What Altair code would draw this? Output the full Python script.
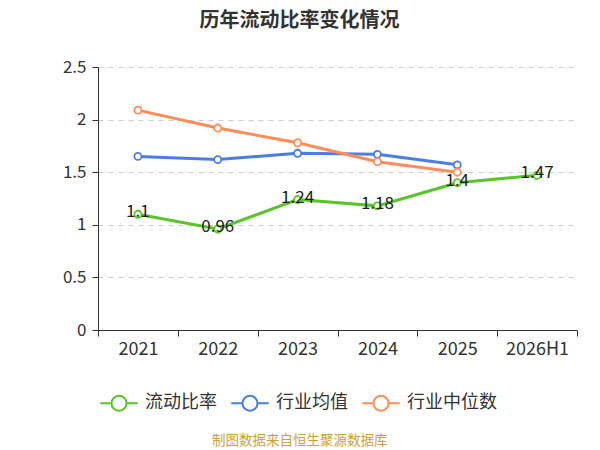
import altair as alt
import pandas as pd

years = ["2021", "2022", "2023", "2024", "2025", "2026H1"]
current_ratio = [1.1, 0.96, 1.24, 1.18, 1.4, 1.47]
industry_mean = [1.65, 1.62, 1.68, 1.67, 1.57, None]
industry_median = [2.09, 1.92, 1.78, 1.6, 1.5, None]
series_names = ["流动比率", "行业均值", "行业中位数"]
series_colors = ["#5ac42a", "#4a7ee0", "#ff8c5a"]
title_text = "历年流动比率变化情况"
footer_text = "制图数据来自恒生聚源数据库"

rows = []
for name, vals in zip(series_names, [current_ratio, industry_mean, industry_median]):
    for i, (y, v) in enumerate(zip(years, vals)):
        if v is not None:
            rows.append({"year": y, "value": v, "series": name, "order": i})
df = pd.DataFrame(rows)
df_cur = df[df["series"] == series_names[0]]

font = "Noto Sans CJK SC"
color_scale = alt.Scale(domain=series_names, range=series_colors)
x_enc = alt.X("year:N", sort=years,
              scale=alt.Scale(type="band", paddingInner=0, paddingOuter=0),
              axis=alt.Axis(title=None, labelAngle=0, tickBand="extent", tickSize=6,
                            labelFontSize=18, labelColor="#333", labelPadding=4,
                            domainColor="#333", tickColor="#333", grid=False))
y_enc = alt.Y("value:Q", scale=alt.Scale(domain=[0, 2.5], nice=False),
              axis=alt.Axis(title=None, values=[0, 0.5, 1, 1.5, 2, 2.5], format="~g",
                            tickSize=6, labelFontSize=17, labelColor="#333", labelPadding=6,
                            domainColor="#333", tickColor="#333",
                            grid=True, gridColor="#cccccc", gridDash=[5, 5]))

legend_path = "M-2.5,0L-1,0M1,0L2.5,0M-1,0A1,1,0,1,1,1,0A1,1,0,1,1,-1,0"

base = alt.Chart(df)
lines = base.mark_line(strokeWidth=3).encode(
    x=x_enc, y=y_enc,
    color=alt.Color("series:N", scale=color_scale,
                    legend=alt.Legend(title=None, orient="none", legendX=12, legendY=327,
                                      direction="horizontal", symbolType=legend_path,
                                      symbolSize=225, symbolStrokeWidth=2,
                                      labelFontSize=18, labelColor="#333", labelFont=font,
                                      labelOffset=17, columnPadding=10, padding=0)),
    detail="series:N",
    order="order:Q",
)
points = base.mark_point(filled=False, fill="white", size=50, strokeWidth=1.8, opacity=1).encode(
    x=x_enc, y=y_enc,
    stroke=alt.Stroke("series:N", scale=color_scale, legend=None),
)
labels = alt.Chart(df_cur).mark_text(fontSize=17, color="#222", baseline="middle", dy=-2, font=font).encode(
    x=x_enc, y=y_enc, text=alt.Text("value:Q", format="~g"),
)
footer = alt.Chart(pd.DataFrame({"t": [footer_text]})).mark_text(
    fontSize=13.5, color="#cf9f3a", font=font, baseline="middle", align="center"
).encode(text="t:N", x=alt.value(201.8), y=alt.value(374))

chart = alt.layer(lines, points, labels, footer).properties(
    width=479, height=263,
    autosize="none",
    padding={"left": 90, "top": 59, "right": 15, "bottom": 118},
    title=alt.TitleParams(title_text, fontSize=20, fontWeight="bold", color="#333", font=font,
                          anchor="middle", dx=-38, offset=17, baseline="middle"),
).configure(font=font).configure_view(stroke=None)

chart.save("out.html", embed_options={"renderer": "svg", "actions": False})
